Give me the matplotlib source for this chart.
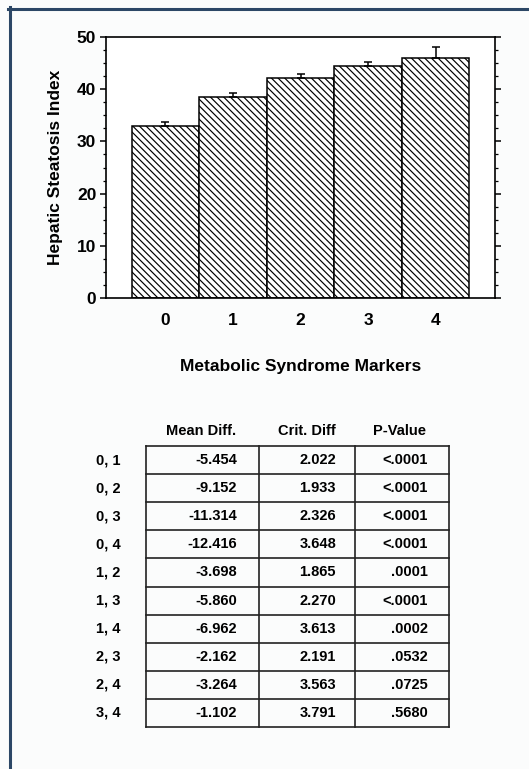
import numpy as np
import matplotlib
matplotlib.use("Agg")
from matplotlib import pyplot as plt
from matplotlib.ticker import MultipleLocator, FixedLocator
from matplotlib.lines import Line2D

plt.rcParams['font.family'] = ['Liberation Sans', 'DejaVu Sans']
plt.rcParams['font.weight'] = 'bold'
plt.rcParams['hatch.linewidth'] = 0.85

# bar chart data
markers = [0, 1, 2, 3, 4]
means = [33.0, 38.5, 42.1, 44.4, 46.0]
errs = [0.8, 0.8, 0.9, 0.9, 2.0]

# pairwise comparison table
pairs = ["0, 1", "0, 2", "0, 3", "0, 4", "1, 2", "1, 3", "1, 4", "2, 3", "2, 4", "3, 4"]
mean_diff = ["-5.454", "-9.152", "-11.314", "-12.416", "-3.698", "-5.860", "-6.962", "-2.162", "-3.264", "-1.102"]
crit_diff = ["2.022", "1.933", "2.326", "3.648", "1.865", "2.270", "3.613", "2.191", "3.563", "3.791"]
p_values = ["<.0001", "<.0001", "<.0001", "<.0001", ".0001", "<.0001", ".0002", ".0532", ".0725", ".5680"]
headers = ["Mean Diff.", "Crit. Diff", "P-Value"]

W, H = 529, 769
fig = plt.figure(figsize=(W / 100, H / 100), dpi=100, facecolor='#fbfcfc')

# frame around the panel
fig.add_artist(Line2D([9.5 / W, 9.5 / W], [0, 1 - 7 / H], color='#2c4766', lw=2.2))
fig.add_artist(Line2D([8 / W, 1], [1 - 8.5 / H, 1 - 8.5 / H], color='#2c4766', lw=2.2))

ax = fig.add_axes([106 / W, 1 - 298 / H, 389 / W, 261 / H])
ax.bar(markers, means, width=1.0, color='white', edgecolor='black', hatch='\\\\\\\\\\',
       linewidth=1.1, zorder=2)
ax.errorbar(markers, means, yerr=[np.zeros(len(errs)), errs], fmt='none', ecolor='black',
            elinewidth=1.1, capsize=3, capthick=1.1, zorder=3)
ax.set_xlim(-0.88, 4.88)
ax.set_ylim(0, 50)
ax.yaxis.set_major_locator(MultipleLocator(10))
ax.yaxis.set_minor_locator(MultipleLocator(2.5))
ax.set_xticks(markers)
ax.xaxis.set_minor_locator(FixedLocator([2]))
ax.tick_params(axis='x', which='major', length=0, pad=11, labelsize=12.5)
ax.tick_params(axis='x', which='minor', length=3, top=True, bottom=True, direction='out')
ax.tick_params(axis='y', which='major', length=4, width=1.1, right=True, direction='out', labelsize=12.5, pad=3)
ax.tick_params(axis='y', which='minor', length=2.5, width=0.9, right=True, direction='out')
for s in ax.spines.values():
    s.set_linewidth(1.2)
ax.set_ylabel("Hepatic Steatosis Index", fontsize=12.5, fontweight='bold', labelpad=10)
ax.set_xlabel("Metabolic Syndrome Markers", fontsize=12.5, fontweight='bold', labelpad=22)

# table drawn in pixel coordinates on an overlay axes
tb = fig.add_axes([0, 0, 1, 1])
tb.set_xlim(0, W)
tb.set_ylim(H, 0)
tb.axis('off')

top, row_h = 446, 28.1
col_x = [146, 259, 355, 449]
right_x = [237, 336, 428]
head_x = [201, 307, 400]
n = len(pairs)
fs = 10.5

for j, h in enumerate(headers):
    tb.text(head_x[j], 431, h, ha='center', va='center', fontsize=fs, fontweight='bold')

for i in range(n + 1):
    y = top + i * row_h
    tb.plot([col_x[0], col_x[-1]], [y, y], color='#222222', lw=1.2)
for x in col_x:
    tb.plot([x, x], [top, top + n * row_h], color='#222222', lw=1.2)

for i in range(n):
    y = top + (i + 0.5) * row_h
    tb.text(96, y, pairs[i], ha='left', va='center', fontsize=fs, fontweight='bold')
    tb.text(right_x[0], y, mean_diff[i], ha='right', va='center', fontsize=fs, fontweight='bold')
    tb.text(right_x[1], y, crit_diff[i], ha='right', va='center', fontsize=fs, fontweight='bold')
    tb.text(right_x[2], y, p_values[i], ha='right', va='center', fontsize=fs, fontweight='bold')

fig.savefig("out.png", dpi=100, facecolor=fig.get_facecolor())
